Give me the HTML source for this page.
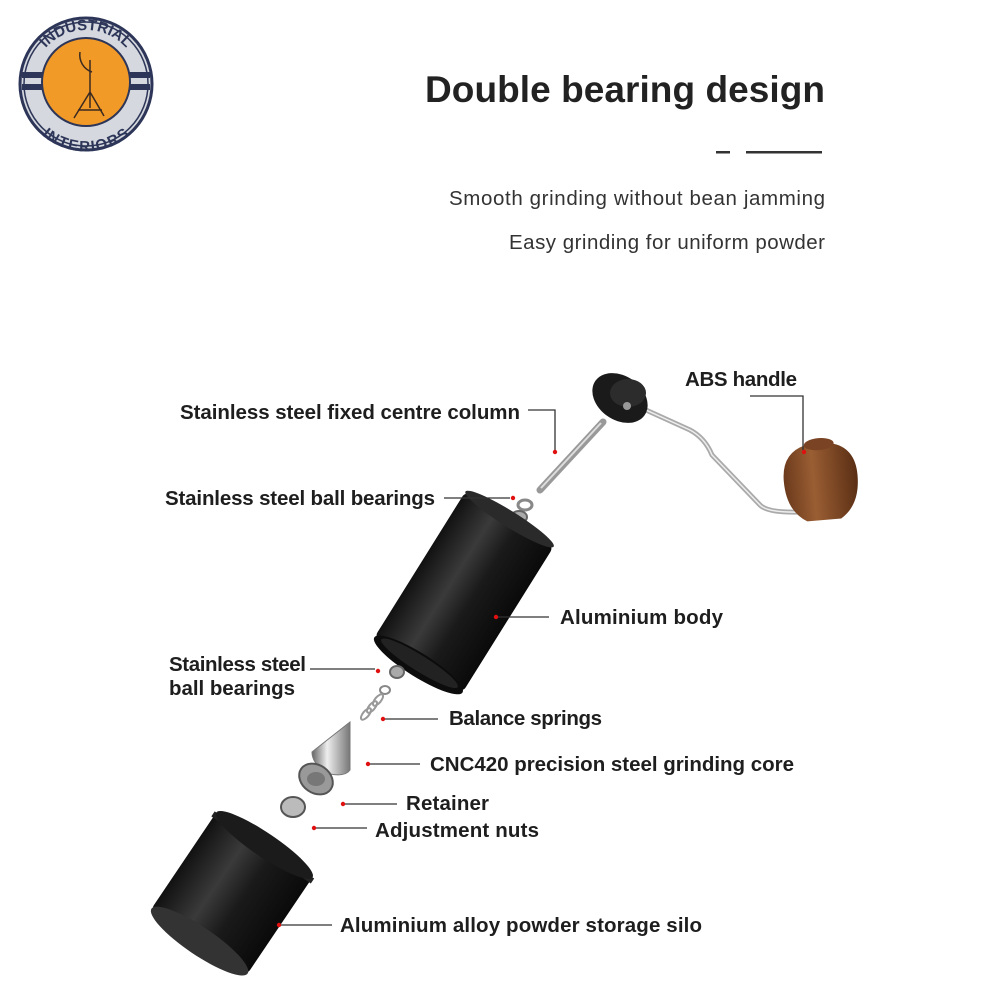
<!DOCTYPE html>
<html><head><meta charset="utf-8"><style>
html,body{margin:0;padding:0;background:#fff}
svg{display:block}
text{font-family:"Liberation Sans","DejaVu Sans",sans-serif}
.l{font-size:20.5px;font-weight:bold;fill:#1e1e1e}
.ln{stroke:#333;stroke-width:1.3;fill:none}
.d{fill:#e01010}
</style></head><body>
<svg width="1000" height="1000" viewBox="0 0 1000 1000" xmlns="http://www.w3.org/2000/svg">
<defs>
<linearGradient id="blk" x1="0" x2="1" y1="0" y2="0">
<stop offset="0" stop-color="#111"/><stop offset=".35" stop-color="#3a3a3a"/><stop offset=".6" stop-color="#1a1a1a"/><stop offset="1" stop-color="#0a0a0a"/></linearGradient>
<linearGradient id="wood" x1="0" x2="1"><stop offset="0" stop-color="#6b3a1c"/><stop offset=".4" stop-color="#9a5e33"/><stop offset="1" stop-color="#5a2e14"/></linearGradient>
<linearGradient id="stl" x1="0" x2="1"><stop offset="0" stop-color="#666"/><stop offset=".4" stop-color="#eee"/><stop offset="1" stop-color="#777"/></linearGradient>
<path id="arcT" d="M32,84 A54,54 0 0 1 140,84"/>
<path id="arcB" d="M29,84 A57,57 0 0 0 143,84"/>
</defs>
<!-- logo -->
<circle cx="86" cy="84" r="66" fill="#d5d8de" stroke="#2d3658" stroke-width="3"/>
<circle cx="86" cy="84" r="62" fill="none" stroke="#2d3658" stroke-width="1.5"/>
<rect x="22" y="72" width="128" height="6" fill="#2d3658"/>
<rect x="22" y="84" width="128" height="6" fill="#2d3658"/>
<circle cx="86" cy="82" r="44" fill="#f29a28" stroke="#2d3658" stroke-width="2"/>
<g stroke="#3a2a20" stroke-width="1.5" fill="none"><path d="M90,60 L90,108 M90,92 L74,118 M90,92 L104,116 M78,110 L102,110 M80,52 A18,18 0 0 0 92,72"/></g>
<text font-size="15" font-weight="bold" fill="#2d3658"><textPath href="#arcT" startOffset="50%" text-anchor="middle">INDUSTRIAL</textPath></text>
<text font-size="15" font-weight="bold" fill="#2d3658"><textPath href="#arcB" startOffset="50%" text-anchor="middle" dominant-baseline="hanging">INTERIORS</textPath></text>

<text x="425" y="102" textLength="400" font-size="37" font-weight="bold" fill="#222">Double bearing design</text>
<rect x="716" y="151" width="14" height="2.5" fill="#333"/>
<rect x="746" y="151" width="76" height="2.5" fill="#333"/>
<text x="449" y="205" textLength="376" font-size="20.5" fill="#333">Smooth grinding without bean jamming</text>
<text x="509" y="249" textLength="316" font-size="20.5" fill="#333">Easy grinding for uniform powder</text>

<!-- handle -->
<path d="M635,405 L690,430 Q705,438 712,455 L760,505 Q768,513 800,512" stroke="#aaa" stroke-width="5" fill="none"/>
<path d="M635,405 L690,430 Q705,438 712,455 L760,505 Q768,513 800,512" stroke="#eee" stroke-width="1.5" fill="none"/>
<g transform="translate(822,482) rotate(-5)">
<path d="M-14,-38 Q-38,-32 -38,-4 Q-38,26 -18,38 L16,38 Q36,26 36,-4 Q36,-32 12,-38 Z" fill="url(#wood)"/>
<ellipse cx="0" cy="-38" rx="15" ry="6" fill="#7a4323"/>
</g>
<ellipse cx="620" cy="398" rx="30" ry="22" transform="rotate(35 620 398)" fill="#1a1a1a"/>
<ellipse cx="628" cy="393" rx="18" ry="14" fill="#2c2c2c"/>
<circle cx="627" cy="406" r="4" fill="#999"/>
<!-- column -->
<line x1="603" y1="422" x2="540" y2="490" stroke="#999" stroke-width="7" stroke-linecap="round"/>
<line x1="601" y1="423" x2="541" y2="488" stroke="#ddd" stroke-width="2"/>
<!-- bearings top -->
<ellipse cx="525" cy="505" rx="7" ry="5" fill="none" stroke="#888" stroke-width="3"/>
<ellipse cx="519" cy="517" rx="8" ry="6" fill="#aaa" stroke="#666" stroke-width="2"/>
<!-- body -->
<g transform="translate(464,592) rotate(32)">
<rect x="-52" y="-86" width="104" height="172" rx="6" fill="url(#blk)"/>
<ellipse cx="0" cy="-86" rx="52" ry="8" fill="#2a2a2a"/>
<ellipse cx="0" cy="86" rx="52" ry="12" fill="#0c0c0c"/>
<ellipse cx="0" cy="84" rx="45" ry="8" fill="#222"/>
</g>
<!-- lower bearings -->
<ellipse cx="397" cy="672" rx="7" ry="6" fill="#aaa" stroke="#666" stroke-width="2"/>
<ellipse cx="385" cy="690" rx="5" ry="4" fill="none" stroke="#888" stroke-width="2"/>
<g stroke="#999" stroke-width="2" fill="none">
<ellipse cx="378" cy="700" rx="3" ry="7" transform="rotate(40 378 700)"/>
<ellipse cx="372" cy="707" rx="3" ry="7" transform="rotate(40 372 707)"/>
<ellipse cx="366" cy="714" rx="3" ry="7" transform="rotate(40 366 714)"/>
</g>
<!-- cone -->
<path d="M350,722 L312,752 Q312,765 330,774 Q345,777 350,770 Z" fill="url(#stl)" stroke="#777"/>
<!-- retainer -->
<ellipse cx="316" cy="779" rx="18" ry="14" transform="rotate(35 316 779)" fill="#999" stroke="#555" stroke-width="2"/>
<ellipse cx="316" cy="779" rx="9" ry="7" fill="#777"/>
<!-- nut -->
<ellipse cx="293" cy="807" rx="12" ry="10" fill="#bbb" stroke="#555" stroke-width="2"/>
<!-- silo -->
<g transform="translate(232,893) rotate(34)">
<rect x="-58" y="-58" width="116" height="116" rx="4" fill="url(#blk)"/>
<rect x="-60" y="-58" width="120" height="6" fill="#222"/>
<ellipse cx="0" cy="-58" rx="58" ry="12" fill="#1b1b1b"/>
<ellipse cx="0" cy="58" rx="58" ry="14" fill="#333"/>
</g>

<!-- labels -->
<text class="l" x="180" y="419" textLength="340">Stainless steel fixed centre column</text>
<path class="ln" d="M528,410 H555 V450"/><circle class="d" cx="555" cy="452" r="2.2"/>
<text class="l" x="165" y="505" textLength="270">Stainless steel ball bearings</text>
<path class="ln" d="M444,498 H510"/><circle class="d" cx="513" cy="498" r="2.2"/>
<text class="l" x="685" y="386" textLength="112">ABS handle</text>
<path class="ln" d="M750,396 H803 V450"/><circle class="d" cx="804" cy="452" r="2.2"/>
<text class="l" x="560" y="624" textLength="163">Aluminium body</text>
<path class="ln" d="M498,617 H549"/><circle class="d" cx="496" cy="617" r="2.2"/>
<text class="l" x="169" y="671" textLength="137">Stainless steel</text>
<text class="l" x="169" y="695" textLength="126">ball bearings</text>
<path class="ln" d="M310,669 H375"/><circle class="d" cx="378" cy="671" r="2.2"/>
<text class="l" x="449" y="725" textLength="153">Balance springs</text>
<path class="ln" d="M385,719 H438"/><circle class="d" cx="383" cy="719" r="2.2"/>
<text class="l" x="430" y="771" textLength="364">CNC420 precision steel grinding core</text>
<path class="ln" d="M370,764 H420"/><circle class="d" cx="368" cy="764" r="2.2"/>
<text class="l" x="406" y="810" textLength="83">Retainer</text>
<path class="ln" d="M345,804 H397"/><circle class="d" cx="343" cy="804" r="2.2"/>
<text class="l" x="375" y="837" textLength="164">Adjustment nuts</text>
<path class="ln" d="M316,828 H367"/><circle class="d" cx="314" cy="828" r="2.2"/>
<text class="l" x="340" y="932" textLength="362">Aluminium alloy powder storage silo</text>
<path class="ln" d="M281,925 H332"/><circle class="d" cx="279" cy="925" r="2.2"/>
</svg>
</body></html>
